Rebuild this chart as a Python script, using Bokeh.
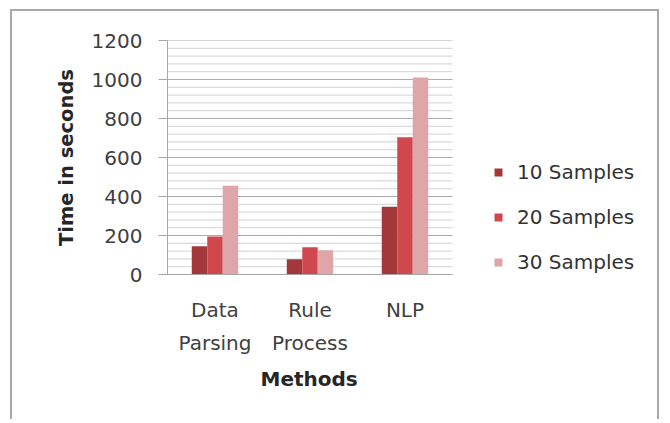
from bokeh.plotting import figure
from bokeh.models import Legend, LegendItem, Range1d, FixedTicker, Title
from bokeh.transform import dodge
from bokeh.embed import file_html
from bokeh.resources import INLINE

methods = ["Data\nParsing", "Rule\nProcess", "NLP"]
series_names = ["10 Samples", "20 Samples", "30 Samples"]
s10 = [145, 78, 347]
s20 = [195, 140, 704]
s30 = [455, 125, 1010]
colors = ["#A3383B", "#D0484D", "#DFA6A9"]
y_ticks = [0, 200, 400, 600, 800, 1000, 1200]

FONT = "DejaVu Sans"
n_cat = len(methods)
xpos = [i + 0.5 for i in range(n_cat)]

p = figure(x_range=Range1d(0, 5.116), y_range=Range1d(0, 1200),
           width=649, height=410,
           min_border_left=155, min_border_right=8, min_border_top=29, min_border_bottom=147,
           output_backend="svg", toolbar_location=None)
p.styles = {"margin-left": "10px", "margin-top": "9px",
            "border-top": "2px solid #A8A8A8", "border-left": "2px solid #A8A8A8",
            "border-right": "2px solid #A8A8A8"}
p.outline_line_color = None
p.background_fill_color = "white"
p.xgrid.visible = False
p.ygrid.visible = False

# horizontal grid lines (major at ticks, minor every 40), spanning the category area only
minor_vals = [v for v in range(0, y_ticks[-1] + 1, 40) if v not in y_ticks]
p.segment(x0=0, x1=n_cat, y0=minor_vals, y1=minor_vals, line_color="#D2D2D2", line_width=1)
p.segment(x0=0, x1=n_cat, y0=y_ticks, y1=y_ticks, line_color="#ABABAB", line_width=1)

data = dict(x=xpos, s10=s10, s20=s20, s30=s30)
offs = [-0.163, 0.0, 0.163]
renderers = []
for col, off, c in zip(["s10", "s20", "s30"], offs, colors):
    r = p.vbar(x=dodge("x", off), top=col, width=0.163, source=data,
               fill_color=c, line_color=None)
    renderers.append(r)

# y axis
p.yaxis.ticker = FixedTicker(ticks=y_ticks)
p.yaxis.axis_label = "Time in seconds"
p.yaxis.axis_label_text_font = FONT
p.yaxis.axis_label_text_font_style = "bold"
p.yaxis.axis_label_text_font_size = "19.5px"
p.yaxis.axis_label_text_color = "#262626"
p.yaxis.axis_label_standoff = 11
p.yaxis.major_label_text_font = FONT
p.yaxis.major_label_text_font_size = "20px"
p.yaxis.major_label_text_color = "#404040"
p.yaxis.major_label_standoff = 16
p.yaxis.major_tick_out = 9
p.yaxis.major_tick_in = 0
p.yaxis.major_tick_line_color = "#A6A6A6"
p.yaxis.minor_tick_out = 0
p.yaxis.minor_tick_in = 0
p.yaxis.axis_line_color = "#A6A6A6"

# x axis
p.xaxis.bounds = (0, n_cat)
p.xaxis.ticker = FixedTicker(ticks=xpos)
p.xaxis.major_label_overrides = {x: m for x, m in zip(xpos, methods)}
p.xaxis.major_label_text_font = FONT
p.xaxis.major_label_text_font_size = "20px"
p.xaxis.major_label_text_line_height = 1.38
p.xaxis.major_label_text_color = "#404040"
p.xaxis.major_label_standoff = 17
p.xaxis.major_tick_line_color = None
p.xaxis.minor_tick_line_color = None
p.xaxis.axis_line_color = "#A6A6A6"

# x-axis title, placed under the category area
p.add_layout(Title(text="Methods", align="left", offset=93, standoff=14,
                   text_font=FONT, text_font_style="bold", text_font_size="20px",
                   text_color="#262626"), "below")

legend = Legend(items=[LegendItem(label=n, renderers=[r]) for n, r in zip(series_names, renderers)],
                location=(326, 0), padding=0, spacing=21, glyph_width=10, glyph_height=10,
                label_standoff=14, label_text_font=FONT, label_text_font_size="20px",
                label_text_color="#333333", border_line_color=None, background_fill_alpha=0)
p.add_layout(legend, "center")

open("out.html", "w").write(file_html(p, INLINE))
